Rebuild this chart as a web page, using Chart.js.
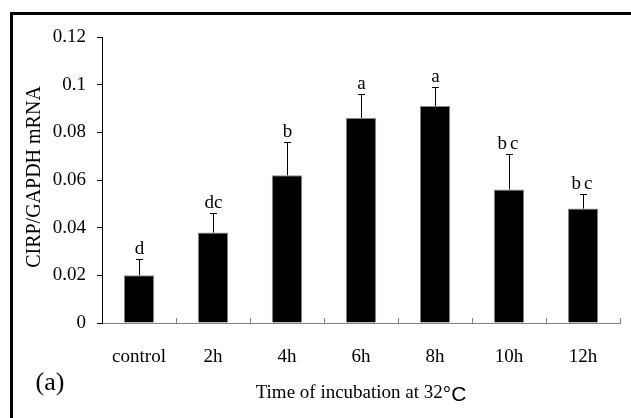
<!DOCTYPE html>
<html>
<head>
<meta charset="utf-8">
<script src="https://cdn.jsdelivr.net/npm/chart.js@4/dist/chart.umd.min.js"></script>
<style>
  html, body { margin: 0; padding: 0; background: #fff; }
  #wrap { width: 631px; height: 418px; }
</style>
</head>
<body>
<div id="wrap"><canvas id="chart" width="631" height="418"></canvas></div>
<script>
// data
const categories = ['control', '2h', '4h', '6h', '8h', '10h', '12h'];
const means = [0.020, 0.038, 0.062, 0.086, 0.091, 0.056, 0.048];
const errorTops = [0.027, 0.046, 0.076, 0.096, 0.099, 0.071, 0.054];
const groupLetters = ['d', 'dc', 'b', 'a', 'a', 'bc', 'bc'];
const yTickLabels = ['0', '0.02', '0.04', '0.06', '0.08', '0.1', '0.12'];

const SERIF = '"Liberation Serif", "Times New Roman", serif';
const SANS = '"Liberation Sans", Arial, sans-serif';

// frame, error bars, significance letters and axis titles
const figureDecor = {
  id: 'figureDecor',
  beforeDraw(chart) {
    const ctx = chart.ctx;
    ctx.save();
    ctx.fillStyle = '#fff';
    ctx.fillRect(0, 0, chart.width, chart.height);
    ctx.fillStyle = '#000';
    ctx.fillRect(10, 12, chart.width - 10, 3);
    ctx.fillRect(10, 12, 3, chart.height - 12);
    ctx.restore();
  },
  afterDatasetsDraw(chart) {
    const ctx = chart.ctx;
    const yScale = chart.scales.y;
    const bars = chart.getDatasetMeta(0).data;
    ctx.save();
    ctx.strokeStyle = '#000';
    ctx.lineWidth = 1;
    bars.forEach((bar, i) => {
      const x = Math.round(bar.x) + 0.5;
      const yTop = Math.round(yScale.getPixelForValue(errorTops[i])) + 0.5;
      ctx.beginPath();
      ctx.moveTo(x, bar.y);
      ctx.lineTo(x, yTop);
      ctx.moveTo(x - 3.5, yTop);
      ctx.lineTo(x + 3.5, yTop);
      ctx.stroke();

      ctx.fillStyle = '#000';
      ctx.font = '19px ' + SERIF;
      ctx.textAlign = 'center';
      ctx.textBaseline = 'alphabetic';
      ctx.letterSpacing = groupLetters[i] === 'bc' ? '3px' : '0px';
      ctx.fillText(groupLetters[i], x, yTop - 6);
    });
    ctx.restore();
  },
  afterDraw(chart) {
    const ctx = chart.ctx;
    const area = chart.chartArea;
    ctx.save();
    ctx.fillStyle = '#000';

    // y axis title
    ctx.save();
    ctx.translate(35, 177);
    ctx.rotate(-Math.PI / 2);
    ctx.font = '20px ' + SERIF;
    ctx.textAlign = 'center';
    ctx.textBaseline = 'middle';
    ctx.fillText('CIRP/GAPDH mRNA', 0, 0);
    ctx.restore();

    // x axis title, the degree sign set in a sans face like the original
    const main = 'Time of incubation at 32';
    const unit = '\u00B0C';
    ctx.font = '19px ' + SERIF;
    const w1 = ctx.measureText(main).width;
    ctx.font = '21px ' + SANS;
    const w2 = ctx.measureText(unit).width;
    const x0 = (area.left + area.right) / 2 - (w1 + w2) / 2;
    ctx.textAlign = 'left';
    ctx.textBaseline = 'alphabetic';
    ctx.font = '19px ' + SERIF;
    ctx.fillText(main, x0, 398);
    ctx.font = '21px ' + SANS;
    ctx.fillText(unit, x0 + w1, 401);

    // panel label
    ctx.font = '26px ' + SERIF;
    ctx.textAlign = 'center';
    ctx.textBaseline = 'middle';
    ctx.fillText('(a)', 50, 383);
    ctx.restore();
  }
};

new Chart(document.getElementById('chart'), {
  type: 'bar',
  data: {
    labels: categories,
    datasets: [{
      data: means,
      backgroundColor: '#000',
      borderColor: '#888',
      borderWidth: 1,
      categoryPercentage: 1,
      barPercentage: 0.41
    }]
  },
  options: {
    responsive: false,
    animation: false,
    events: [],
    layout: { padding: { left: 0, top: 37, right: 11, bottom: 0 } },
    plugins: { legend: { display: false }, tooltip: { enabled: false } },
    scales: {
      x: {
        afterFit: (s) => { s.height = 95; },
        border: { color: '#808080', width: 1 },
        grid: { offset: true, drawOnChartArea: false, drawTicks: true, tickLength: -5, color: '#808080' },
        ticks: { color: '#000', font: { family: SERIF, size: 19 }, padding: 28, maxRotation: 0 }
      },
      y: {
        min: 0,
        max: 0.12,
        afterFit: (s) => { s.width = 102; },
        border: { color: '#000', width: 1 },
        grid: { drawOnChartArea: false, drawTicks: true, tickLength: 5, color: '#000' },
        ticks: {
          stepSize: 0.02,
          color: '#000',
          padding: 11,
          font: { family: SERIF, size: 19 },
          callback: (v, i) => yTickLabels[i]
        }
      }
    }
  },
  plugins: [figureDecor]
});
</script>
</body>
</html>
